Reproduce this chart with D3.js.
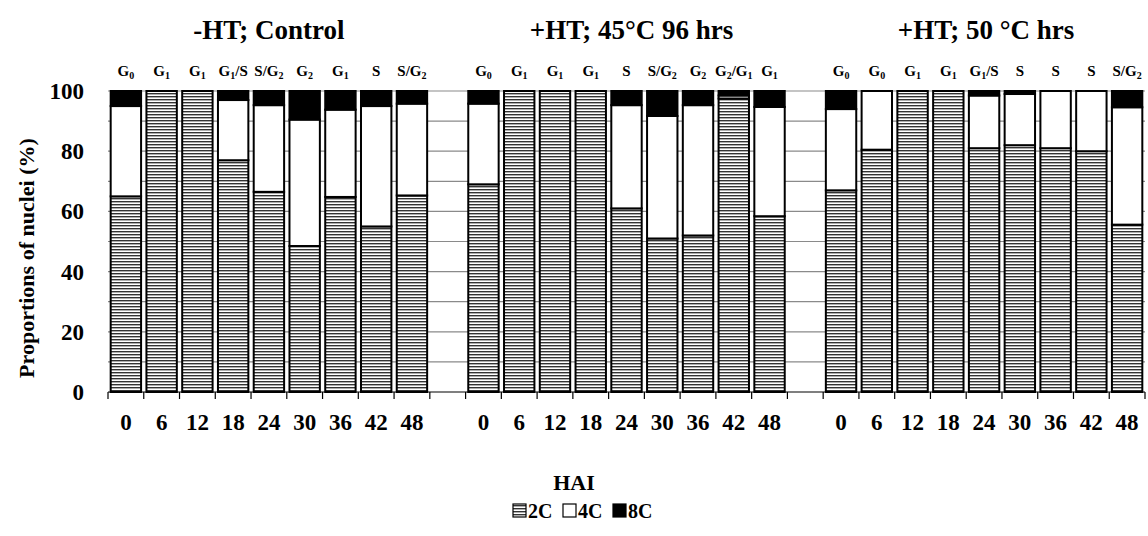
<!DOCTYPE html>
<html><head><meta charset="utf-8">
<script src="https://cdn.jsdelivr.net/npm/d3@7"></script>
<style>body{margin:0;background:#fff}svg{display:block}</style>
</head><body>
<svg id="chart" width="1148" height="536"></svg>
<script>
// ---- data ----
const groupTitles = ["-HT; Control", "+HT; 45°C 96 hrs", "+HT; 50 °C hrs"];
const hai = ["0","6","12","18","24","30","36","42","48"];
const phaseControl = ["G0","G1","G1","G1/S","S/G2","G2","G1","S","S/G2"];
const phase45 = ["G0","G1","G1","G1","S","S/G2","G2","G2/G1","G1"];
const phase50 = ["G0","G0","G1","G1","G1/S","S","S","S","S/G2"];
const c2Control = [65,100,100,77,66.5,48.5,64.8,55,65.3];
const c4Control = [30,0,0,20,28.8,42,29,40,30.5];
const c8Control = [5,0,0,3,4.7,9.5,6.2,5,4.2];
const c2_45 = [69,100,100,100,61,51,52,97.5,58.4];
const c4_45 = [26.8,0,0,0,34.3,40.7,43.3,1,36.3];
const c8_45 = [4.2,0,0,0,4.7,8.3,4.7,1.5,5.3];
const c2_50 = [67,80.5,100,100,81,82,81,80,55.6];
const c4_50 = [27,19.5,0,0,17.5,17,19,20,39];
const c8_50 = [6,0,0,0,1.5,1,0,0,5.4];
const seriesNames = ["2C","4C","8C"];
const yTicks = [0,20,40,60,80,100];

const groupsData = [
  {title: groupTitles[0], phase: phaseControl, c2: c2Control, c4: c4Control, c8: c8Control},
  {title: groupTitles[1], phase: phase45, c2: c2_45, c4: c4_45, c8: c8_45},
  {title: groupTitles[2], phase: phase50, c2: c2_50, c4: c4_50, c8: c8_50}
];

// build rows with gap categories between groups
const rows = [];
const domain = [];
groupsData.forEach((g, gi) => {
  hai.forEach((h, i) => {
    const key = "g" + gi + "_" + h;
    domain.push(key);
    rows.push({key, gi, hai: h, phase: g.phase[i], "2C": g.c2[i], "4C": g.c4[i], "8C": g.c8[i]});
  });
  if (gi < groupsData.length - 1) domain.push("gap" + gi);
});

const svg = d3.select("#chart");
const M = {left: 108, right: 1145, top: 91, bottom: 392};
const serif = "'Liberation Serif','Times New Roman',serif";

const x = d3.scaleBand().domain(domain).range([M.left, M.right]).paddingInner(0.15).paddingOuter(0.075);
const y = d3.scaleLinear().domain([0, 100]).range([M.bottom, M.top]);

// pattern for 2C
const defs = svg.append("defs");
const pat = defs.append("pattern").attr("id", "hatch").attr("patternUnits", "userSpaceOnUse")
  .attr("width", 6).attr("height", 3);
pat.append("rect").attr("width", 6).attr("height", 3).attr("fill", "#fff");
pat.append("rect").attr("y", 0).attr("width", 6).attr("height", 1.4).attr("fill", "#333");

const fills = {"2C": "url(#hatch)", "4C": "#fff", "8C": "#000"};

// gridlines
svg.append("g").selectAll("line").data(d3.range(10, 101, 10)).join("line")
  .attr("x1", M.left).attr("x2", M.right)
  .attr("y1", d => y(d)).attr("y2", d => y(d))
  .attr("stroke", "#8a8a8a").attr("stroke-width", 1.2);

// bars
const stack = d3.stack().keys(seriesNames)(rows);
const gBars = svg.append("g");
stack.forEach(layer => {
  gBars.append("g").selectAll("rect").data(layer.filter(d => d[1] - d[0] > 0)).join("rect")
    .attr("x", d => x(d.data.key))
    .attr("width", x.bandwidth())
    .attr("y", d => y(d[1]))
    .attr("height", d => y(d[0]) - y(d[1]))
    .attr("fill", fills[layer.key])
    .attr("stroke", "#000").attr("stroke-width", 2);
});

// x axis
const boundaries = d3.range(domain.length + 1).map(i => M.left + i * ((M.right - M.left) / domain.length));
const xAxis = svg.append("g");
xAxis.append("line").attr("x1", M.left).attr("x2", M.right).attr("y1", M.bottom).attr("y2", M.bottom)
  .attr("stroke", "#000").attr("stroke-width", 1.2);
xAxis.selectAll("line.tick").data(boundaries).join("line").attr("class", "tick")
  .attr("x1", d => d).attr("x2", d => d).attr("y1", M.bottom).attr("y2", M.bottom + 7)
  .attr("stroke", "#000").attr("stroke-width", 1.2);
xAxis.selectAll("text").data(rows).join("text")
  .attr("x", d => x(d.key) + x.bandwidth() / 2).attr("y", 430)
  .attr("text-anchor", "middle").attr("font-family", serif).attr("font-weight", "bold")
  .attr("font-size", 23).text(d => d.hai);

// y axis labels
svg.append("g").selectAll("text").data(yTicks).join("text")
  .attr("x", 84).attr("y", d => y(d) + 8)
  .attr("text-anchor", "end").attr("font-family", serif).attr("font-weight", "bold")
  .attr("font-size", 23).text(d => d);

svg.append("text").attr("transform", "translate(34,258) rotate(-90)")
  .attr("text-anchor", "middle").attr("font-family", serif).attr("font-weight", "bold")
  .attr("font-size", 22).text("Proportions of nuclei (%)");

// phase labels with subscripts
const pl = svg.append("g").selectAll("text").data(rows).join("text")
  .attr("x", d => x(d.key) + x.bandwidth() / 2).attr("y", 76)
  .attr("text-anchor", "middle").attr("font-family", serif).attr("font-weight", "bold")
  .attr("font-size", 15);
pl.each(function(d) {
  const t = d3.select(this);
  const parts = d.phase.split(/(\d)/).filter(s => s.length);
  let shifted = false;
  parts.forEach(p => {
    if (/^\d$/.test(p)) {
      t.append("tspan").attr("font-size", 10).attr("dy", 3).text(p);
      shifted = true;
    } else {
      const ts = t.append("tspan").text(p);
      if (shifted) { ts.attr("dy", -3); shifted = false; }
    }
  });
});

// group titles
const titleShift = [0, 5, 2];
groupsData.forEach((g, gi) => {
  const first = x("g" + gi + "_0"), last = x("g" + gi + "_48") + x.bandwidth();
  svg.append("text").attr("x", (first + last) / 2 + titleShift[gi]).attr("y", 39)
    .attr("text-anchor", "middle").attr("font-family", serif).attr("font-weight", "bold")
    .attr("font-size", 27).text(g.title);
});

// axis title
svg.append("text").attr("x", 574).attr("y", 490).attr("text-anchor", "middle")
  .attr("font-family", serif).attr("font-weight", "bold").attr("font-size", 22).text("HAI");

// legend
const legend = svg.append("g").attr("transform", "translate(512,502)");
const lx = [0, 50, 100];
seriesNames.forEach((s, i) => {
  const it = legend.append("g").attr("transform", "translate(" + lx[i] + ",0)");
  it.append("rect").attr("x", 1).attr("y", 2).attr("width", 13).attr("height", 13)
    .attr("fill", fills[s]).attr("stroke", "#000").attr("stroke-width", 1.2);
  it.append("text").attr("x", 16).attr("y", 16).attr("font-family", serif).attr("font-weight", "bold")
    .attr("font-size", 20).text(s);
});
</script>
</body></html>
